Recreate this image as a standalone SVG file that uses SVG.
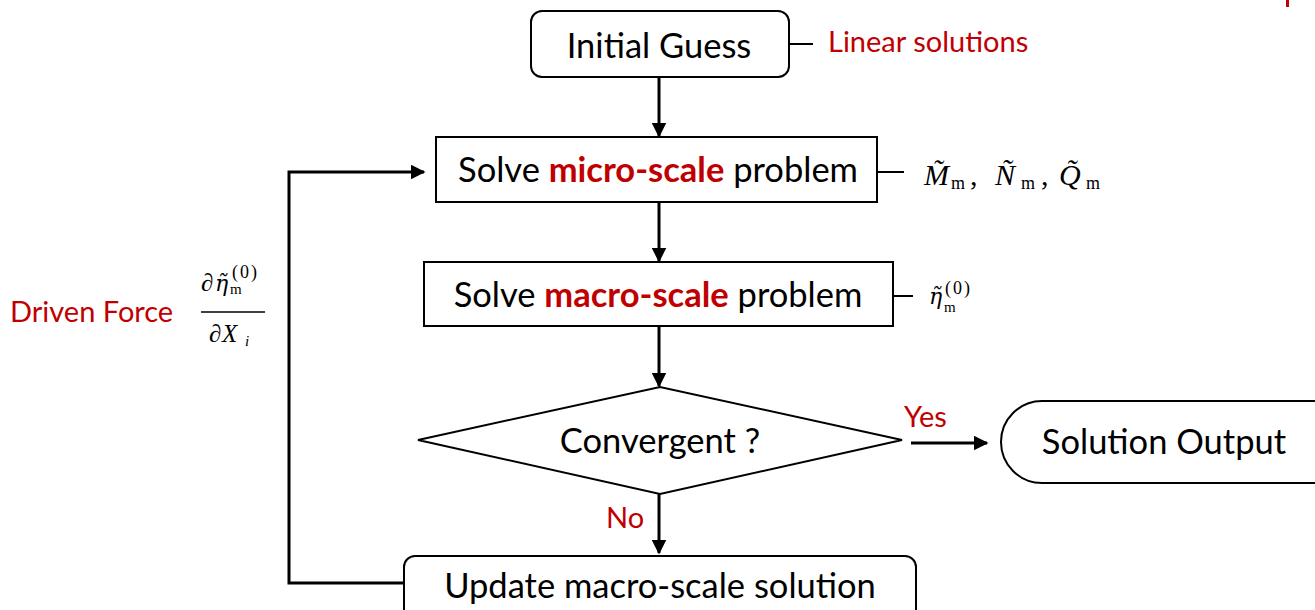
<svg xmlns="http://www.w3.org/2000/svg" width="1315" height="610" viewBox="0 0 1315 610">
<defs>
<style>
.box{fill:#fff;stroke:#000;stroke-width:2}
.t{font-family:Lato,"Liberation Sans",sans-serif;font-size:34.5px;fill:#000;text-anchor:middle}
.red{font-family:Lato,"Liberation Sans",sans-serif;font-size:29px;fill:#c00000}
.b{font-weight:bold;fill:#c00000}
.ln{stroke:#000;stroke-width:3;fill:none}
.thin{stroke:#000;stroke-width:2;fill:none}
.m{font-family:"Liberation Serif","DejaVu Serif",serif;font-style:italic;fill:#000}
.mu{font-family:"Liberation Serif","DejaVu Serif",serif;fill:#000}
.sup{font-family:"Liberation Serif","DejaVu Serif",serif;fill:#000;font-size:18px;letter-spacing:2px}
.eta{font-family:"DejaVu Serif",serif;font-style:italic;fill:#000}
</style>
<marker id="ah" markerWidth="5" markerHeight="5" refX="4.5" refY="2.5" orient="auto" markerUnits="strokeWidth">
<path d="M0,0 L5,2.5 L0,5 Z" fill="#000"/>
</marker>
</defs>
<rect width="1315" height="610" fill="#fff"/>
<rect x="1286" y="0" width="3" height="7" fill="#c00000"/>

<g id="connectors">
<line class="ln" x1="659" y1="78" x2="659" y2="136" marker-end="url(#ah)"/>
<line class="ln" x1="659" y1="203" x2="659" y2="261" marker-end="url(#ah)"/>
<line class="ln" x1="659" y1="327" x2="659" y2="386" marker-end="url(#ah)"/>
<line class="ln" x1="659" y1="494" x2="659" y2="553" marker-end="url(#ah)"/>
<line class="ln" x1="911" y1="443" x2="987" y2="443" marker-end="url(#ah)"/>
<polyline class="ln" points="403,583 289,583 289,172 424,172" marker-end="url(#ah)"/>
<line class="thin" x1="790" y1="44" x2="813" y2="44"/>
<line class="thin" x1="878" y1="172" x2="904" y2="172"/>
<line class="thin" x1="894" y1="296" x2="913" y2="296"/>
</g>

<g id="initial-guess">
<rect class="box" x="531" y="11" width="258" height="66" rx="11"/>
<text class="t" x="659" y="58">Initial Guess</text>
</g>
<g id="linear-solutions">
<text class="red" x="828" y="52">Linear solutions</text>
</g>

<g id="micro">
<rect class="box" x="436" y="137" width="441" height="65"/>
<text class="t" x="658" y="182">Solve <tspan class="b">micro-scale</tspan> problem</text>
</g>
<g id="micro-outputs">
<text class="m" font-size="30" x="924" y="185">M&#771;</text>
<text class="mu" font-size="18" x="951" y="189">m</text>
<text class="mu" font-size="30" x="970" y="185">,</text>
<text class="m" font-size="30" x="995" y="185">N&#771;</text>
<text class="mu" font-size="18" x="1021" y="189">m</text>
<text class="mu" font-size="30" x="1041" y="185">,</text>
<text class="m" font-size="30" x="1059" y="185">Q&#771;</text>
<text class="mu" font-size="18" x="1086" y="189">m</text>
</g>

<g id="macro">
<rect class="box" x="424" y="262" width="469" height="64"/>
<text class="t" x="658" y="307">Solve <tspan class="b">macro-scale</tspan> problem</text>
</g>
<g id="macro-output">
<text class="eta" font-size="22" x="929" y="304">η&#771;</text>
<text class="sup" x="945" y="294">(0)</text>
<text class="mu" font-size="15" x="944" y="312">m</text>
</g>

<g id="convergent">
<polygon class="box" points="418,440 660,387 902,440 660,494"/>
<text class="t" x="660" y="453">Convergent ?</text>
</g>
<g id="yes-label"><text class="red" x="904" y="427">Yes</text></g>
<g id="no-label"><text class="red" x="606" y="528">No</text></g>

<g id="solution-output">
<rect class="box" x="1001" y="401" width="360" height="82" rx="41"/>
<text class="t" x="1164" y="454">Solution Output</text>
</g>

<g id="update">
<rect class="box" x="404" y="556" width="512" height="66" rx="11"/>
<text class="t" x="660" y="598">Update macro-scale solution</text>
</g>

<g id="driven-force">
<text class="red" x="10" y="322">Driven Force</text>
<text class="mu" font-size="25" x="201" y="291">∂</text>
<text class="eta" font-size="22" x="215" y="291">η&#771;</text>
<text class="sup" x="232" y="278">(0)</text>
<text class="mu" font-size="15" x="230" y="294">m</text>
<line x1="201" y1="312" x2="265" y2="312" stroke="#000" stroke-width="1.5"/>
<text class="mu" font-size="25" x="209" y="342">∂</text>
<text class="m" font-size="25" x="222" y="342">X</text>
<text class="m" font-size="15" x="245" y="346">i</text>
</g>
</svg>
